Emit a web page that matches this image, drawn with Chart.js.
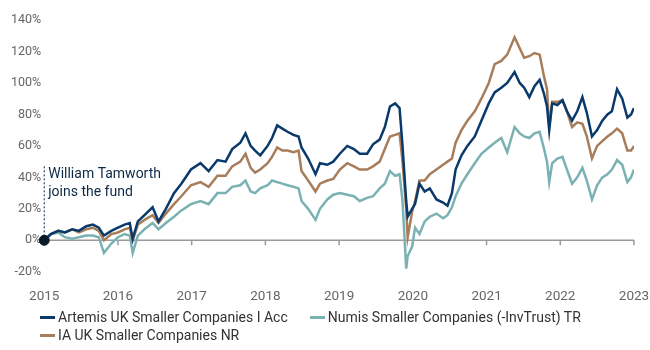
<!DOCTYPE html>
<html>
<head>
<meta charset="utf-8">
<script src="https://cdn.jsdelivr.net/npm/chart.js@4"></script>
<style>
  body { margin: 0; background: #fff; }
  #wrap { position: relative; width: 650px; height: 350px; }
  #legend { position: absolute; left: 40px; top: 309px; font: 14px Roboto, sans-serif; color: #333; }
  #legend .row { height: 18px; white-space: nowrap; }
  #legend .item { display: inline-block; margin-right: 22px; }
  #legend .mark { display: inline-block; width: 15px; height: 3px; vertical-align: middle; margin-right: 3px; position: relative; top: -1px; }
</style>
</head>
<body>
<div id="wrap">
  <canvas id="myChart" width="650" height="350"></canvas>
  <div id="legend"></div>
</div>
<script>
const ctx = document.getElementById('myChart');

// dates as decimal years
const dates = [2015.00, 2015.09, 2015.19, 2015.28, 2015.38, 2015.47, 2015.57, 2015.66, 2015.74, 2015.81,
  2015.91, 2016.00, 2016.09, 2016.16, 2016.20, 2016.27, 2016.36, 2016.47, 2016.55, 2016.65,
  2016.76, 2016.86, 2016.99, 2017.12, 2017.23, 2017.35, 2017.46, 2017.55, 2017.66, 2017.73,
  2017.80, 2017.86, 2017.93, 2018.03, 2018.09, 2018.16, 2018.23, 2018.30, 2018.38, 2018.45,
  2018.49, 2018.58, 2018.68, 2018.74, 2018.84, 2018.92, 2019.01, 2019.11, 2019.20, 2019.28,
  2019.38, 2019.46, 2019.55, 2019.62, 2019.69, 2019.76, 2019.82, 2019.86, 2019.91, 2019.93,
  2019.99, 2020.03, 2020.09, 2020.16, 2020.23, 2020.32, 2020.41, 2020.47, 2020.53, 2020.58,
  2020.66, 2020.74, 2020.84, 2020.93, 2021.03, 2021.11, 2021.20, 2021.28, 2021.38, 2021.45,
  2021.51, 2021.58, 2021.65, 2021.72, 2021.78, 2021.82, 2021.85, 2021.89, 2021.96, 2022.03,
  2022.09, 2022.16, 2022.23, 2022.30, 2022.36, 2022.43, 2022.50, 2022.57, 2022.64, 2022.70,
  2022.77, 2022.84, 2022.91, 2022.96, 2023.00];

const artemis = [0, 4, 6, 5, 7, 6, 9, 10, 8, 3,
  6, 8, 10, 11, 1, 12, 16, 21, 12, 20,
  30, 36, 45, 49, 44, 51, 50, 58, 62, 68,
  60, 57, 54, 60, 65, 73, 71, 69, 67, 66,
  59, 52, 42, 49, 48, 50, 55, 60, 58, 55,
  55, 61, 64, 72, 85, 87, 84, 60, 25, 15,
  20, 23, 36, 31, 33, 26, 24, 22, 30, 45,
  54, 60, 66, 76, 87, 94, 97, 100, 107, 100,
  97, 91, 98, 102, 93, 85, 70, 87, 86, 89,
  82, 76, 82, 91, 81, 66, 70, 76, 80, 82,
  96, 90, 78, 80, 84];

const iaSmaller = [0, 4, 6, 5, 7, 5, 7, 8, 6, 0,
  4, 5, 7, 8, 0, 10, 13, 16, 11, 17,
  23, 28, 35, 37, 34, 41, 41, 47, 50, 55,
  46, 43, 45, 49, 53, 59, 57, 57, 56, 57,
  44, 38, 31, 36, 38, 39, 45, 49, 47, 45,
  45, 47, 50, 58, 66, 67, 68, 50, 20, 2,
  18, 25, 38, 38, 42, 45, 48, 50, 52, 62,
  70, 76, 82, 90, 100, 112, 114, 118, 129, 122,
  116, 117, 119, 118, 104, 96, 72, 88, 88, 89,
  82, 72, 75, 74, 66, 52, 60, 63, 66, 68,
  71, 68, 57, 57, 60];

const numis = [0, 4, 5, 2, 1, 2, 3, 3, 2, -8,
  -2, 2, 4, 3, -8, 3, 7, 11, 7, 11,
  15, 19, 23, 25, 23, 30, 30, 34, 35, 38,
  31, 30, 33, 35, 38, 37, 36, 35, 34, 33,
  25, 20, 13, 20, 26, 29, 30, 29, 28, 25,
  27, 28, 33, 36, 44, 41, 42, 25, -18, -10,
  -4, 8, 4, 12, 15, 17, 14, 16, 21, 28,
  36, 42, 49, 55, 59, 62, 65, 56, 72, 68,
  66, 65, 68, 69, 58, 50, 37, 49, 52, 53,
  45, 36, 40, 46, 38, 26, 35, 40, 42, 45,
  51, 48, 37, 40, 45];

const seriesNames = ['Artemis UK Smaller Companies I Acc', 'IA UK Smaller Companies NR', 'Numis Smaller Companies (-InvTrust) TR'];
const seriesColors = ['#0a396b', '#a77d5b', '#7ab1b2'];
const yTicks = [-20, 0, 20, 40, 60, 80, 100, 120, 140];
const startDate = 2015;
const noteLines = ['William Tamworth', 'joins the fund'];
const noteTop = 48;

function toPoints(values) {
    return values.map((v, i) => ({ x: dates[i], y: v }));
}

const zeroLine = {
    id: 'zeroLine',
    beforeDatasetsDraw(chart) {
        const c = chart.ctx;
        const xs = chart.scales.x;
        const ys = chart.scales.y;
        const y0 = ys.getPixelForValue(0);
        c.save();
        c.strokeStyle = '#9a9a9a';
        c.lineWidth = 1.5;
        c.beginPath();
        c.moveTo(xs.left, y0);
        c.lineTo(xs.right, y0);
        xs.ticks.forEach(t => {
            const px = xs.getPixelForValue(t.value);
            c.moveTo(px, y0);
            c.lineTo(px, y0 + 5);
        });
        c.stroke();

        // annotation
        const xa = xs.getPixelForValue(startDate);
        c.strokeStyle = '#0d2846';
        c.lineWidth = 1;
        c.setLineDash([2, 2]);
        c.beginPath();
        c.moveTo(xa, y0);
        c.lineTo(xa, ys.getPixelForValue(noteTop));
        c.stroke();
        c.setLineDash([]);
        c.fillStyle = '#0d2846';
        c.font = '14px Roboto, sans-serif';
        c.textBaseline = 'middle';
        c.fillText(noteLines[0], xa + 4, ys.getPixelForValue(42));
        c.fillText(noteLines[1], xa + 4, ys.getPixelForValue(30.5));
        c.restore();
    }
};

const chart = new Chart(ctx, {
    type: 'line',
    data: {
        datasets: [
            {
                type: 'scatter',
                label: 'start',
                data: [{ x: startDate, y: 0 }],
                pointRadius: 5,
                backgroundColor: '#0b1a2b',
                borderColor: '#0b1a2b',
                clip: false,
                order: -1
            },
            {
                label: seriesNames[2],
                data: toPoints(numis),
                borderColor: seriesColors[2],
                borderWidth: 2.5,
                pointRadius: 0,
                tension: 0,
                order: 3
            },
            {
                label: seriesNames[1],
                data: toPoints(iaSmaller),
                borderColor: seriesColors[1],
                borderWidth: 2.5,
                pointRadius: 0,
                tension: 0,
                order: 2
            },
            {
                label: seriesNames[0],
                data: toPoints(artemis),
                borderColor: seriesColors[0],
                borderWidth: 2.5,
                pointRadius: 0,
                tension: 0,
                order: 1
            }
        ]
    },
    options: {
        responsive: false,
        animation: false,
        layout: { padding: { top: 20, right: 0, bottom: 28, left: 8 } },
        plugins: {
            legend: { display: false },
            tooltip: { enabled: false }
        },
        scales: {
            x: {
                type: 'linear',
                min: 2015,
                max: 2023,
                afterFit: axis => { axis.paddingRight = 16; },
                ticks: {
                    stepSize: 1,
                    color: '#666',
                    font: { family: 'Roboto', size: 13.5 },
                    padding: 17,
                    callback: v => String(v)
                },
                grid: { display: false, tickLength: 0 },
                border: { display: false }
            },
            y: {
                min: -20,
                max: 140,
                afterBuildTicks: axis => { axis.ticks = yTicks.map(v => ({ value: v })); },
                ticks: {
                    color: '#666',
                    font: { family: 'Roboto', size: 12.5 },
                    padding: 3,
                    callback: v => v + '%'
                },
                grid: { display: false, tickLength: 0 },
                border: { display: false }
            }
        }
    },
    plugins: [zeroLine]
});

// legend as html
const legendOrder = [[0, 2], [1]];
const legendEl = document.getElementById('legend');
legendOrder.forEach(row => {
    const r = document.createElement('div');
    r.className = 'row';
    row.forEach(i => {
        const it = document.createElement('span');
        it.className = 'item';
        it.innerHTML = '<span class="mark" style="background:' + seriesColors[i] + '"></span>' + seriesNames[i];
        r.appendChild(it);
    });
    legendEl.appendChild(r);
});
</script>
</body>
</html>
